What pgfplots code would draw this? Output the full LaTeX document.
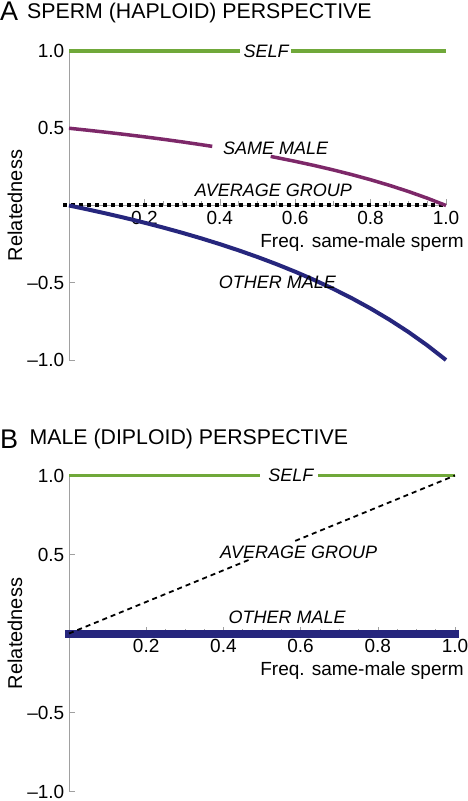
\documentclass[border=0pt]{standalone}
\usepackage{fontspec}
\setmainfont{Liberation Sans}
\usepackage{pgfplots}
\pgfplotsset{compat=1.18}
\definecolor{selfgreen}{RGB}{112,168,58}
\definecolor{samepurple}{RGB}{125,40,105}
\definecolor{othernavy}{RGB}{38,38,125}
\definecolor{axgray}{RGB}{160,160,160}

\pgfplotsset{
 panel/.style={
   scale only axis, axis lines=middle, xmin=0,xmax=1,ymin=-1,ymax=1,
   axis line style={axgray, line width=0.8pt, -},
   xtick={0.2,0.4,0.6,0.8,1}, xticklabels={0.2,0.4,0.6,0.8,1.0},
   ytick={-1,-0.5,0.5,1}, yticklabels={{\textendash1.0},{\textendash0.5},0.5,1.0},
   minor x tick num=3, minor y tick num=4,
   tick style={axgray, line width=0.6pt},
   tick align=inside, major tick length=6pt, minor tick length=4pt,
   ticklabel style={font=\fontsize{19}{22}\selectfont, text=black},
   yticklabel style={anchor=east, inner sep=0pt, xshift=-4.5pt},
   xticklabel style={anchor=north, inner sep=0pt, yshift=-6pt},
   clip=false,
 },
}
\tikzset{lab/.style={font=\itshape\fontsize{18}{20}\selectfont, inner sep=0pt}}

\begin{document}
\begin{tikzpicture}
\path[use as bounding box] (0,0) rectangle (467pt,801pt);
\node[anchor=base west, font=\fontsize{27}{30}\selectfont, inner sep=0pt] at (0pt,780pt) {A};
\node[anchor=base west, font=\fontsize{21.3}{24}\selectfont, inner sep=0pt] at (27pt,782pt) {SPERM (HAPLOID) PERSPECTIVE};
\node[anchor=base west, font=\fontsize{27}{30}\selectfont, inner sep=0pt] at (0pt,352pt) {B};
\node[anchor=base west, font=\fontsize{21.3}{24}\selectfont, inner sep=0pt] at (29.5pt,356pt) {MALE (DIPLOID) PERSPECTIVE};

% Panel A
\begin{axis}[panel, at={(69pt,441pt)}, anchor=south west, width=377pt, height=309pt]
\addplot[selfgreen, line width=3.5pt] coordinates {(0,1) (0.454,1)};
\addplot[selfgreen, line width=3.5pt] coordinates {(0.589,1) (1,1)};
\addplot[black, line width=4pt, dash pattern=on 4pt off 4pt] coordinates {(-0.015,0) (1,0)};
\addplot[samepurple, line width=3.5pt] coordinates {
(0,0.5) (0.05,0.48718) (0.1,0.47368) (0.15,0.45946) (0.2,0.44444) (0.25,0.42857)
(0.3,0.41176) (0.35,0.39394) (0.38,0.38272)};
\addplot[samepurple, line width=3.5pt] coordinates {
(0.535,0.31741) (0.55,0.31034) (0.6,0.28571) (0.65,0.25926) (0.7,0.23077) (0.75,0.2)
(0.8,0.16667) (0.85,0.13043) (0.9,0.09091) (0.95,0.04762) (1,0)};
\addplot[othernavy, line width=4pt] coordinates {
(0,0) (0.05,-0.02564) (0.1,-0.05263) (0.15,-0.08108) (0.2,-0.11111) (0.25,-0.14286)
(0.3,-0.17647) (0.35,-0.21212) (0.4,-0.25) (0.45,-0.29032) (0.5,-0.33333)
(0.55,-0.37931) (0.6,-0.42857) (0.65,-0.48148) (0.7,-0.53846) (0.75,-0.6)
(0.8,-0.66667) (0.85,-0.73913) (0.9,-0.81818) (0.95,-0.90476) (1,-1)};
\node[lab] at (axis cs:0.523,1) {SELF};
\node[lab] at (axis cs:0.548,0.37) {SAME MALE};
\node[lab] at (axis cs:0.542,0.097) {AVERAGE GROUP};
\node[lab] at (axis cs:0.553,-0.5) {OTHER MALE};
\node[anchor=base east, font=\fontsize{19}{22}\selectfont, inner sep=0pt, xshift=18pt, yshift=-42pt] at (axis cs:1,0) {Freq. same-male sperm};
\node[rotate=90, font=\fontsize{20}{22}\selectfont, inner sep=0pt] at ([xshift=-54pt]axis cs:0,0) {Relatedness};
\end{axis}

% Panel B
\begin{axis}[panel, at={(69pt,9.5pt)}, anchor=south west, width=386pt, height=316pt]
\addplot[selfgreen, line width=3.5pt] coordinates {(0,1) (0.495,1)};
\addplot[selfgreen, line width=3.5pt] coordinates {(0.645,1) (1,1)};
\addplot[othernavy, line width=8pt, line cap=rect] coordinates {(0,0) (1,0)};
\addplot[black, line width=1.8pt, dash pattern=on 5pt off 4pt] coordinates {(0,0) (0.467,0.467)};
\addplot[black, line width=1.8pt, dash pattern=on 5pt off 4pt] coordinates {(0.586,0.586) (1,1)};
\node[lab] at (axis cs:0.575,1) {SELF};
\node[lab] at (axis cs:0.595,0.516) {AVERAGE GROUP};
\node[lab] at (axis cs:0.565,0.10) {OTHER MALE};
\node[anchor=base east, font=\fontsize{19}{22}\selectfont, inner sep=0pt, xshift=9pt, yshift=-42pt] at (axis cs:1,0) {Freq. same-male sperm};
\node[rotate=90, font=\fontsize{20}{22}\selectfont, inner sep=0pt] at ([xshift=-54pt]axis cs:0,0) {Relatedness};
\end{axis}
\end{tikzpicture}
\end{document}
